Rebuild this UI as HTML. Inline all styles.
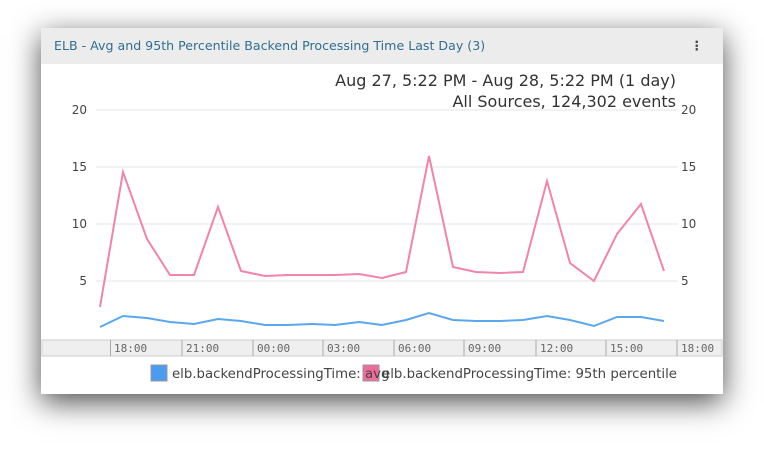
<!DOCTYPE html><html><head><style>
body{margin:0;width:764px;height:452px;background:#fff;overflow:hidden;font-family:"DejaVu Sans","Liberation Sans",sans-serif}
.card{position:absolute;left:41px;top:28px;width:682px;height:366px;background:#fff;box-shadow:0 8px 28px rgba(0,0,0,.7)}
.hdr{position:absolute;left:0;top:0;width:682px;height:36px;background:#ececec;color:#2f6f8f;font-size:12.6px;line-height:36px;padding-left:13px;box-sizing:border-box}
</style></head><body>
<div class="card"><div class="hdr">ELB - Avg and 95th Percentile Backend Processing Time Last Day (3)<span style="position:absolute;right:20px;top:0;color:#444;font-weight:bold">⋮</span></div></div>
<svg width="764" height="452" style="position:absolute;left:0;top:0" font-family="DejaVu Sans,Liberation Sans,sans-serif">
<text x="676" y="86" text-anchor="end" font-size="16" fill="#333">Aug 27, 5:22 PM - Aug 28, 5:22 PM  (1 day)</text>
<text x="676" y="107" text-anchor="end" font-size="16" fill="#333">All Sources, 124,302 events</text>
<g stroke="#e4e4e4"><line x1="96" x2="678" y1="110" y2="110"/><line x1="96" x2="678" y1="167" y2="167"/><line x1="96" x2="678" y1="224" y2="224"/><line x1="96" x2="678" y1="281" y2="281"/></g>
<g font-size="12" fill="#444"><text x="87" y="114" text-anchor="end">20</text><text x="87" y="171" text-anchor="end">15</text><text x="87" y="228" text-anchor="end">10</text><text x="87" y="285" text-anchor="end">5</text>
<text x="681" y="114">20</text><text x="681" y="171">15</text><text x="681" y="228">10</text><text x="681" y="285">5</text></g>
<rect x="42" y="340" width="680" height="16" fill="#efefef" stroke="#ccc"/>
<g stroke="#aaa"><line x1="110.5" x2="110.5" y1="340" y2="356"/><line x1="182" x2="182" y1="340" y2="356"/><line x1="253" x2="253" y1="340" y2="356"/><line x1="323" x2="323" y1="340" y2="356"/><line x1="394" x2="394" y1="340" y2="356"/><line x1="464" x2="464" y1="340" y2="356"/><line x1="536" x2="536" y1="340" y2="356"/><line x1="606" x2="606" y1="340" y2="356"/><line x1="677" x2="677" y1="340" y2="356"/></g>
<g font-family="DejaVu Sans Mono,Liberation Mono,monospace" font-size="11" fill="#666"><text x="114" y="352">18:00</text><text x="186" y="352">21:00</text><text x="257" y="352">00:00</text><text x="327" y="352">03:00</text><text x="398" y="352">06:00</text><text x="468" y="352">09:00</text><text x="540" y="352">12:00</text><text x="610" y="352">15:00</text><text x="681" y="352">18:00</text></g>
<polyline fill="none" stroke="#f284aa" stroke-width="2" points="100,307 123,172 147,239 170,275 194,275 218,207 241,271 265,276 288,275 312,275 335,275 359,274 382,278 406,272 429,156 453,267 476,272 500,273 523,272 547,181 570,263 594,281 617,234 641,204 664,271"/>
<polyline fill="none" stroke="#5aa7ef" stroke-width="2" points="100,327 123,316 147,318 170,322 194,324 218,319 241,321 265,325 288,325 312,324 335,325 359,322 382,325 406,320 429,313 453,320 476,321 500,321 523,320 547,316 570,320 594,326 617,317 641,317 664,321"/>
<rect x="151" y="365" width="16" height="16" fill="#4b9cf0" stroke="#999"/>
<rect x="363" y="365" width="16" height="16" fill="#ef6b9c" stroke="#999"/>
<g font-size="13.3" fill="#444"><text x="172" y="378">elb.backendProcessingTime: avg</text><text x="382" y="378" textLength="295" lengthAdjust="spacingAndGlyphs">elb.backendProcessingTime: 95th percentile</text></g>
</svg>
</body></html>
